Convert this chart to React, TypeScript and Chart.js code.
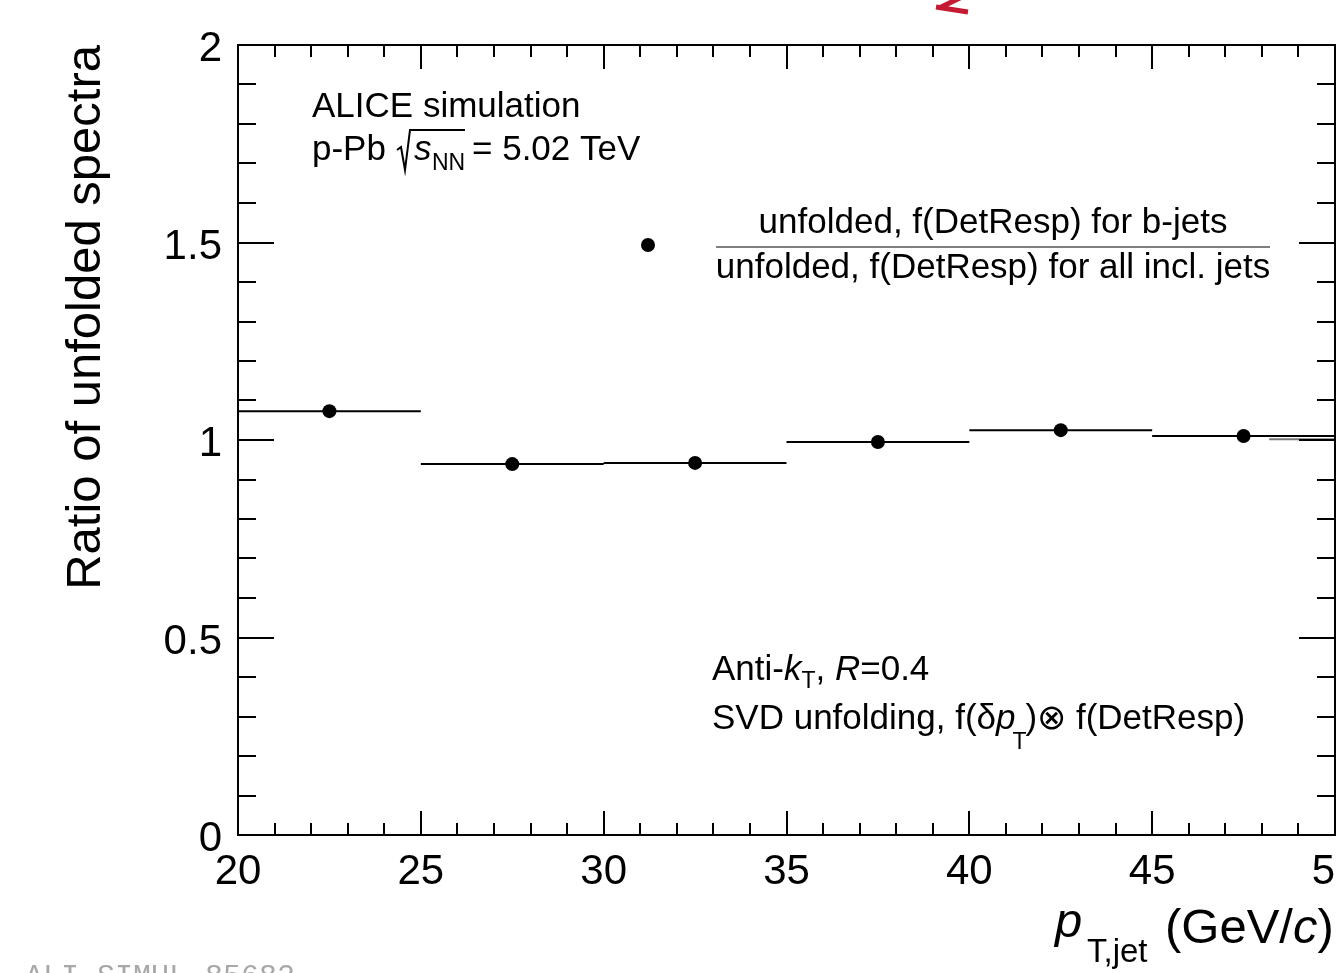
import React, { useEffect, useRef } from "react";
import { Chart, registerables } from "chart.js";

Chart.register(...registerables);

// ---- data ----
const binEdges = [20, 25, 30, 35, 40, 45, 50];
const ratioValues = [1.073, 0.939, 0.942, 0.995, 1.025, 1.01];
const unityStubX = [48.2, 50];
const unityStubY = [1.002, 1.002];
const xTickValues = [20, 25, 30, 35, 40, 45, 50];
const xTickLabels = ["20", "25", "30", "35", "40", "45", "50"];
const yTickValues = [0, 0.5, 1, 1.5, 2];
const yTickLabels = ["0", "0.5", "1", "1.5", "2"];
const xMin = 20, xMax = 50, yMin = 0, yMax = 2;
const xMinorStep = 1, yMinorStep = 0.1;

const FONT = '"Liberation Sans", Arial, Helvetica, sans-serif';

type Part = { t: string; size: number; italic?: boolean; dx?: number; dy?: number };

function drawRich(ctx: CanvasRenderingContext2D, x: number, y: number, parts: Part[]) {
  let cx = x;
  for (const p of parts) {
    cx += p.dx || 0;
    ctx.font = `${p.italic ? "italic " : ""}${p.size}px ${FONT}`;
    ctx.fillText(p.t, cx, y + (p.dy || 0));
    cx += ctx.measureText(p.t).width;
  }
  return cx;
}

const decorPlugin = {
  id: "rootDecor",
  afterDatasetsDraw(chart: any) {
    const ctx: CanvasRenderingContext2D = chart.ctx;
    const xs = chart.scales.x;
    const ys = chart.scales.y;
    const { left, right, top, bottom } = chart.chartArea;
    ctx.save();
    ctx.strokeStyle = "#000";
    ctx.fillStyle = "#000";
    ctx.lineWidth = 2;
    // frame
    ctx.strokeRect(left, top, right - left, bottom - top);
    // x ticks
    ctx.beginPath();
    for (let v = xMin; v <= xMax + 1e-9; v += xMinorStep) {
      const px = Math.round(xs.getPixelForValue(v));
      const major = Math.abs(v / 5 - Math.round(v / 5)) < 1e-6;
      const len = major ? 24 : 12;
      ctx.moveTo(px, bottom);
      ctx.lineTo(px, bottom - len);
      ctx.moveTo(px, top);
      ctx.lineTo(px, top + len);
    }
    // y ticks
    for (let i = 0; i <= Math.round((yMax - yMin) / yMinorStep); i++) {
      const v = yMin + i * yMinorStep;
      const py = Math.round(ys.getPixelForValue(v));
      const major = i % 5 === 0;
      const len = major ? 36 : 18;
      ctx.moveTo(left, py);
      ctx.lineTo(left + len, py);
      ctx.moveTo(right, py);
      ctx.lineTo(right - len, py);
    }
    ctx.stroke();

    // tick labels
    ctx.font = `42px ${FONT}`;
    ctx.textBaseline = "alphabetic";
    ctx.textAlign = "center";
    xTickValues.forEach((v, i) => {
      ctx.fillText(xTickLabels[i], xs.getPixelForValue(v), 884);
    });
    ctx.textAlign = "right";
    yTickValues.forEach((v, i) => {
      ctx.fillText(yTickLabels[i], 222, ys.getPixelForValue(v) + 16);
    });

    // y title
    ctx.save();
    ctx.translate(100, 45);
    ctx.rotate(-Math.PI / 2);
    ctx.textAlign = "right";
    ctx.font = `49px ${FONT}`;
    ctx.fillText("Ratio of unfolded spectra", 0, 0);
    ctx.restore();

    // x title
    ctx.textAlign = "left";
    drawRich(ctx, 1055, 937, [{ t: "p", size: 49, italic: true }]);
    drawRich(ctx, 1087, 962, [{ t: "T,jet", size: 33 }]);
    drawRich(ctx, 1165, 943, [
      { t: "(GeV/", size: 49 },
      { t: "c", size: 49, italic: true },
      { t: ")", size: 49 },
    ]);

    // ALICE label
    ctx.font = `35px ${FONT}`;
    ctx.fillText("ALICE simulation", 312, 117);
    drawRich(ctx, 312, 160, [{ t: "p-Pb", size: 35 }]);
    // sqrt sign
    ctx.lineWidth = 2;
    ctx.beginPath();
    ctx.moveTo(397, 150);
    ctx.lineTo(401, 147);
    ctx.lineTo(405, 170);
    ctx.lineTo(410, 130);
    ctx.lineTo(465, 130);
    ctx.stroke();
    drawRich(ctx, 414, 160, [{ t: "s", size: 35, italic: true }]);
    drawRich(ctx, 432, 170, [{ t: "NN", size: 23 }]);
    drawRich(ctx, 472, 160, [{ t: "= 5.02 TeV", size: 35 }]);

    // legend
    ctx.beginPath();
    ctx.arc(648, 245, 7, 0, Math.PI * 2);
    ctx.fill();
    ctx.textAlign = "center";
    ctx.font = `35px ${FONT}`;
    ctx.fillText("unfolded, f(DetResp) for b-jets", 993, 233);
    ctx.fillText("unfolded, f(DetResp) for all incl. jets", 993, 278);
    ctx.strokeStyle = "#555";
    ctx.lineWidth = 1.5;
    ctx.beginPath();
    ctx.moveTo(716, 247);
    ctx.lineTo(1270, 247);
    ctx.stroke();

    // Anti-kT label
    ctx.textAlign = "left";
    let cx = drawRich(ctx, 712, 680, [
      { t: "Anti-", size: 35 },
      { t: "k", size: 35, italic: true },
    ]);
    cx = drawRich(ctx, cx, 688, [{ t: "T", size: 23 }]);
    drawRich(ctx, cx, 680, [
      { t: ", ", size: 35 },
      { t: "R", size: 35, italic: true },
      { t: "=0.4", size: 35 },
    ]);
    cx = drawRich(ctx, 712, 729, [
      { t: "SVD unfolding, f(δ", size: 35 },
      { t: "p", size: 35, italic: true },
    ]);
    drawRich(ctx, cx - 3, 749, [{ t: "T", size: 23 }]);
    drawRich(ctx, cx + 10, 729, [{ t: ")⊗ f(DetResp)", size: 35 }]);

    // red arrow fragment at top
    ctx.strokeStyle = "#c41a32";
    ctx.lineWidth = 5;
    ctx.lineCap = "butt";
    ctx.beginPath();
    ctx.moveTo(960, -2);
    ctx.lineTo(939, 8);
    ctx.moveTo(936, 7);
    ctx.lineTo(968, 12);
    ctx.stroke();

    // watermark
    ctx.fillStyle = "#a8a8a8";
    ctx.font = `30px "Liberation Mono", "DejaVu Sans Mono", monospace`;
    ctx.fillText("ALI-SIMUL-85682", 25, 985);
    ctx.restore();
  },
};

export default function App() {
  const ref = useRef<HTMLCanvasElement | null>(null);
  useEffect(() => {
    if (!ref.current) return;
    const binLine: any[] = [];
    ratioValues.forEach((v, i) => {
      binLine.push({ x: binEdges[i], y: v });
      binLine.push({ x: binEdges[i + 1], y: v });
      binLine.push({ x: binEdges[i + 1], y: null });
    });
    const centers = ratioValues.map((v, i) => ({ x: (binEdges[i] + binEdges[i + 1]) / 2, y: v }));
    const stub = unityStubX.map((x, i) => ({ x, y: unityStubY[i] }));
    const chart = new Chart(ref.current, {
      type: "scatter",
      data: {
        datasets: [
          {
            data: stub,
            showLine: true,
            borderColor: "#777",
            borderWidth: 2,
            pointRadius: 0,
          },
          {
            data: binLine,
            showLine: true,
            spanGaps: false,
            borderColor: "#000",
            borderWidth: 2,
            pointRadius: 0,
          },
          {
            data: centers,
            showLine: false,
            pointRadius: 7,
            pointBackgroundColor: "#000",
            pointBorderColor: "#000",
            pointBorderWidth: 0,
          },
        ],
      },
      options: {
        responsive: false,
        animation: false,
        devicePixelRatio: 1,
        layout: { autoPadding: false, padding: { left: 238, top: 45, right: 1, bottom: 138 } },
        plugins: { legend: { display: false }, tooltip: { enabled: false } },
        events: [],
        scales: {
          x: { type: "linear", min: xMin, max: xMax, display: false },
          y: { type: "linear", min: yMin, max: yMax, display: false },
        },
      },
      plugins: [decorPlugin],
    });
    return () => chart.destroy();
  }, []);
  return (
    <div style={{ position: "absolute", left: 0, top: 0, width: 1336, height: 973, background: "#fff" }}>
      <canvas ref={ref} width={1336} height={973} style={{ display: "block" }} />
    </div>
  );
}
